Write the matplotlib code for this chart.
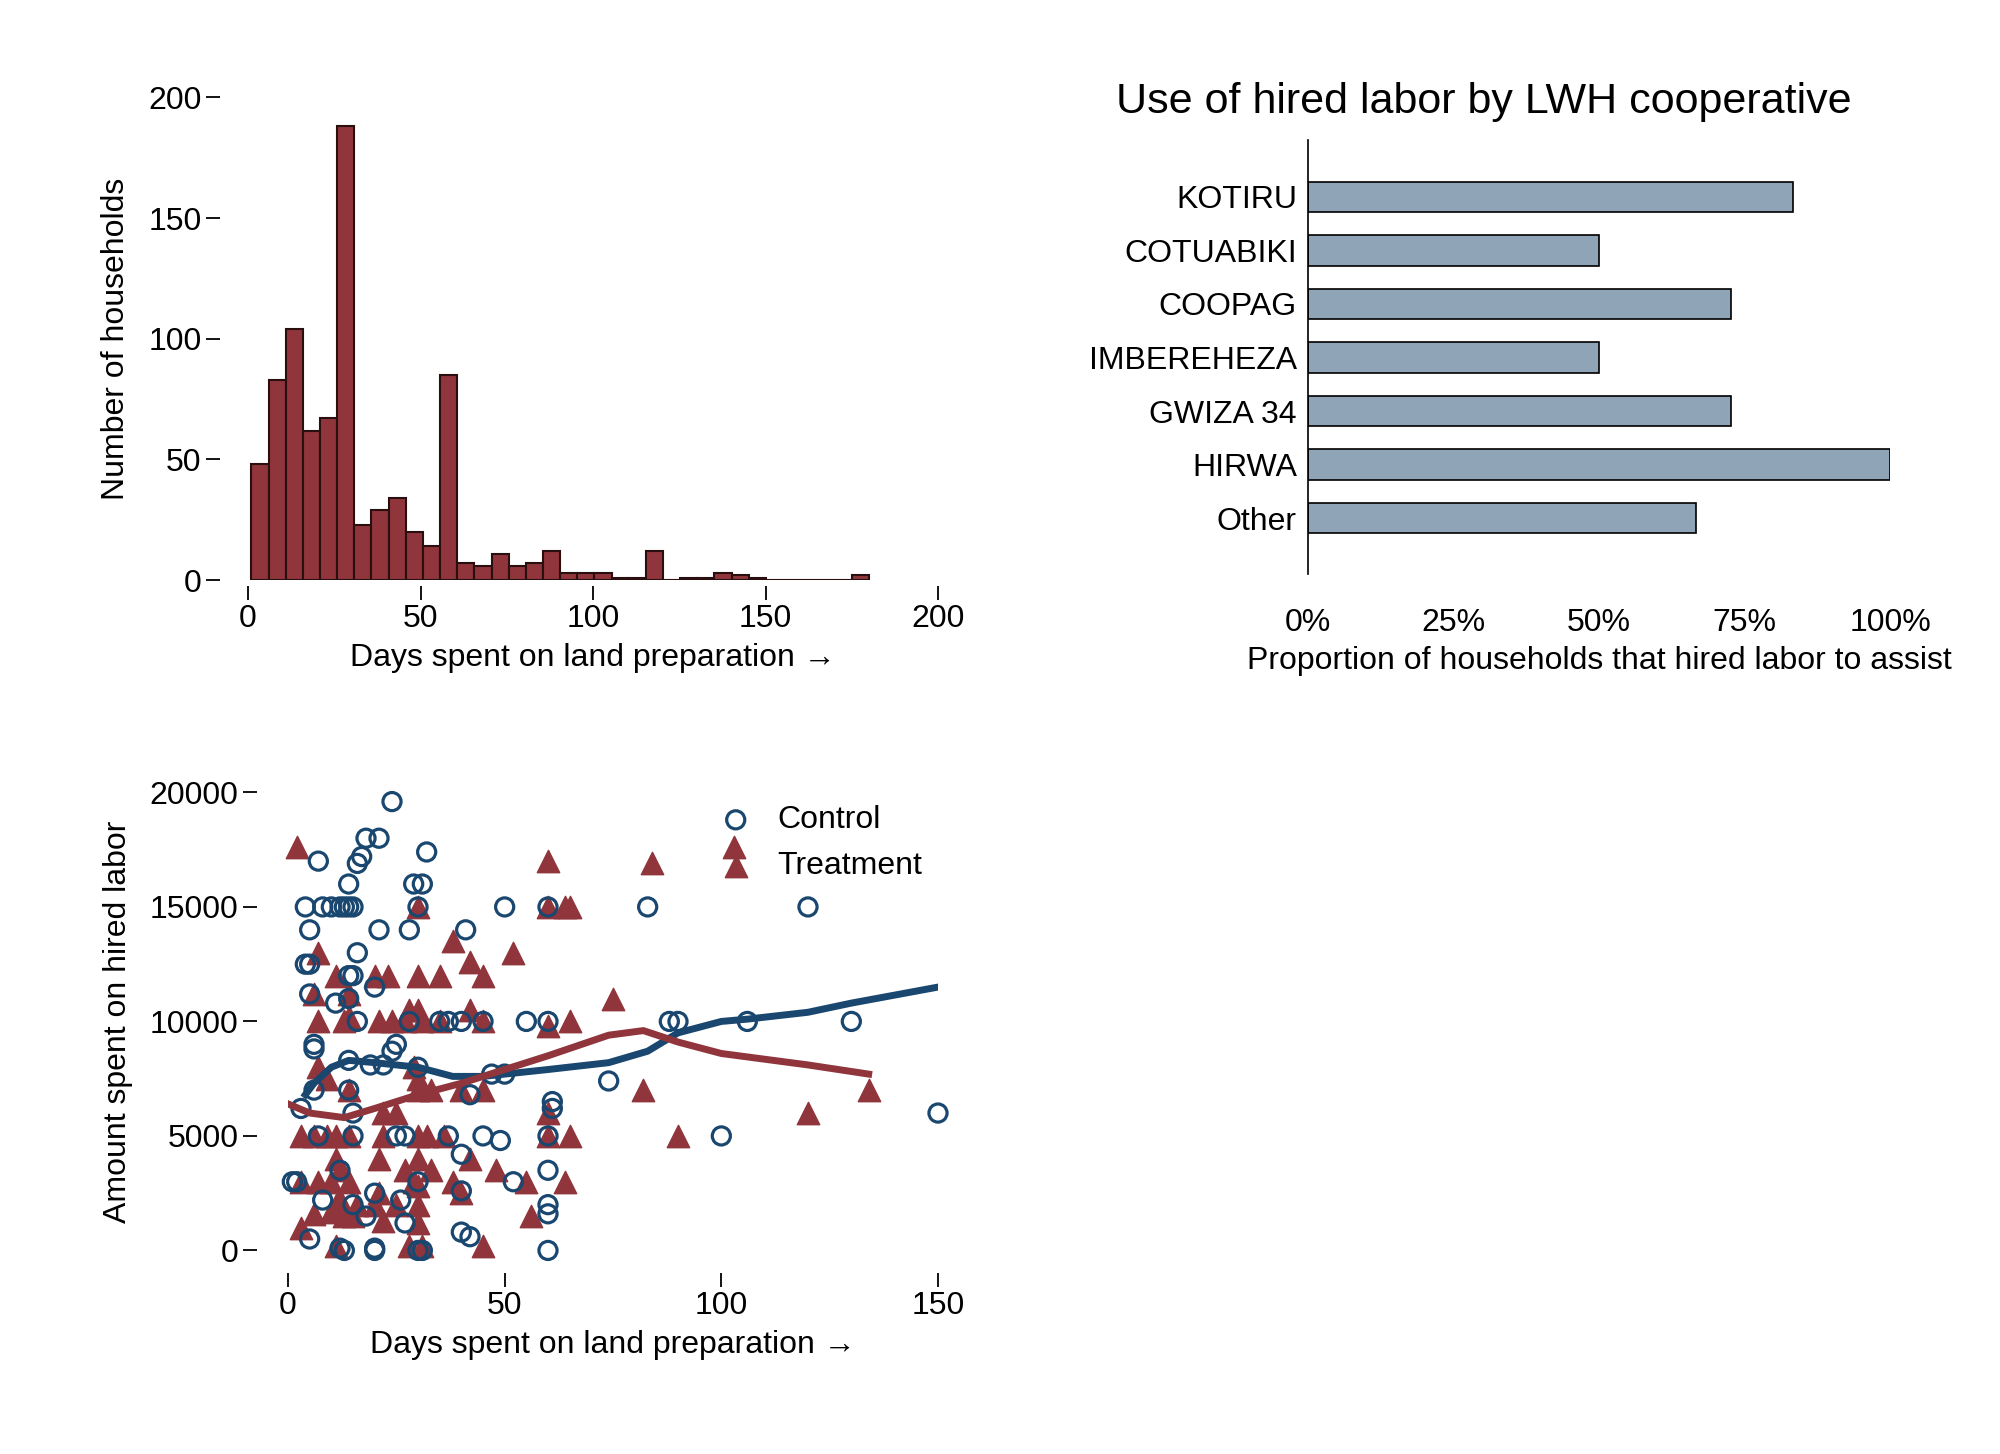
import matplotlib
matplotlib.use("Agg")
import matplotlib.pyplot as plt
import numpy as np

plt.rcParams['font.family'] = ['Liberation Sans', 'DejaVu Sans']

MAROON = '#90353B'
NAVY = '#1A476F'
GRAYBLUE = '#90A4B8'

# Histogram
hist_edges_start = 1.0
hist_width = 4.97
hist_counts = [48, 83, 104, 62, 67, 188, 23, 29, 34, 20, 14, 85, 7, 6, 11, 6, 7, 12,
               3, 3, 3, 1, 1, 12, 0, 1, 1, 3, 2, 1, 0, 0, 0, 0, 0, 2]

# Cooperatives
coops = ['KOTIRU', 'COTUABIKI', 'COOPAG', 'IMBEREHEZA', 'GWIZA 34', 'HIRWA', 'Other']
coop_share = [83.3, 50.0, 72.7, 50.0, 72.7, 100.0, 66.7]

# Scatter
control_x = [24,18,21,7,16,17,14,29,31,32,4,8,10,12,13,14,15,30,50,60,83,120,5,21,28,41,16,4,5,14,15,20,5,11,14,
             16,28,35,37,40,45,55,60,88,90,106,130,6,6,25,24,14,19,22,30,47,50,74,6,14,42,61,61,3,15,7,15,25,27,
             37,45,49,60,100,150,40,12,60,1,2,30,52,40,20,60,60,8,15,26,18,27,40,42,5,12,13,20,20,30,31,60]
control_y = [19600,18000,18000,17000,16900,17200,16000,16000,16000,17400,15000,15000,15000,15000,15000,15000,15000,
             15000,15000,15000,15000,15000,14000,14000,14000,14000,13000,12500,12500,12000,12000,11500,11200,10800,
             11000,10000,10000,10000,10000,10000,10000,10000,10000,10000,10000,10000,10000,9000,8800,9000,8700,8300,
             8100,8100,8000,7700,7700,7400,7000,7000,6800,6500,6200,6200,6000,5000,5000,5000,5000,5000,5000,4800,
             5000,5000,6000,4200,3500,3500,3000,3000,3000,3000,2600,2500,2000,1600,2200,2000,2200,1500,1200,800,600,
             500,100,0,100,0,0,0,0]
treat_x = [2,60,84,103,30,60,64,65,38,7,52,42,45,11,20,23,30,35,6,14,75,7,13,14,21,24,27,28,30,31,35,42,45,65,60,
           29,30,9,7,14,30,33,40,45,82,134,120,22,25,60,3,6,9,11,14,22,30,32,36,60,65,90,11,21,27,30,33,42,48,38,
           55,64,3,7,10,12,14,21,29,30,40,11,12,15,16,20,25,30,6,3,10,13,22,30,56,11,28,31,45]
treat_y = [17600,17000,16900,17600,15000,15000,15000,15000,13500,13000,13000,12600,12000,12000,12000,12000,12000,
           12000,11200,11200,11000,10000,10000,10200,10000,10000,10000,10500,10500,10000,10000,10500,10000,10000,
           9800,8000,7500,7500,8000,7000,7000,7000,7000,7000,7000,7000,6000,6000,6000,6000,5000,5000,5000,5000,5000,
           5000,5000,5000,5000,5000,5000,5000,4000,4000,3500,4000,3500,4000,3500,3000,3000,3000,3000,3000,3000,3500,
           3000,2500,3000,2800,2500,2000,2200,1500,2000,2000,2000,2000,1600,1000,1700,1500,1300,1200,1500,200,200,
           200,200]
lowess_c_x = [4,6,10,14,20,30,38,45,50,60,74,83,90,100,106,120,130,150]
lowess_c_y = [6800,7300,8000,8300,8200,8000,7600,7600,7700,7900,8200,8700,9500,10000,10100,10400,10800,11500]
lowess_t_x = [0,5,13,20,30,40,50,60,74,82,90,100,120,134]
lowess_t_y = [6400,6000,5800,6200,6800,7300,7900,8500,9400,9600,9100,8600,8100,7700]

FS = 23

fig = plt.figure(figsize=(20, 14.54), dpi=100)

def stata_axes(ax, xoff=10, yoff=16):
    for s in ['top', 'right']:
        ax.spines[s].set_visible(False)
    ax.spines['left'].set_position(('outward', yoff))
    ax.spines['bottom'].set_position(('outward', xoff))
    ax.spines['left'].set_color('none')
    ax.spines['bottom'].set_color('none')
    ax.tick_params(axis='both', labelsize=FS, length=10, width=1.3, color='black', direction='out')

# Histogram
ax1 = fig.add_axes([0.124, 0.601, 0.345, 0.332])
edges = hist_edges_start + hist_width * np.arange(len(hist_counts))
ax1.bar(edges, hist_counts, width=hist_width, align='edge', color=MAROON,
        edgecolor='#2a0f10', linewidth=1.5)
ax1.set_xlim(0, 200)
ax1.set_ylim(0, 200)
ax1.set_xticks([0, 50, 100, 150, 200])
ax1.set_yticks([0, 50, 100, 150, 200])
stata_axes(ax1, xoff=4, yoff=20)
ax1.set_xlabel('Days spent on land preparation →', fontsize=FS, labelpad=6)
ax1.set_ylabel('Number of households', fontsize=FS, labelpad=12)

# Bar chart
ax2 = fig.add_axes([0.654, 0.605, 0.291, 0.299])
ypos = np.arange(len(coops))
ax2.barh(ypos, coop_share, height=0.57, color=GRAYBLUE, edgecolor='black', linewidth=1.2)
ax2.set_ylim(len(coops) - 1 + 1.05, -1.07)
ax2.set_xlim(0, 100)
ax2.set_yticks(ypos)
ax2.set_yticklabels(coops)
ax2.set_xticks([0, 25, 50, 75, 100])
ax2.set_xticklabels(['0%', '25%', '50%', '75%', '100%'])
for s in ['top', 'right', 'bottom']:
    ax2.spines[s].set_visible(False)
ax2.spines['left'].set_linewidth(1.2)
ax2.tick_params(axis='both', labelsize=FS, length=0, pad=8)
ax2.tick_params(axis='x', pad=24)
ax2.set_xlabel('Proportion of households that hired labor to assist', fontsize=FS, labelpad=6)
fig.text(0.742, 0.93, 'Use of hired labor by LWH cooperative', fontsize=31, ha='center', va='center')

# Scatter
ax3 = fig.add_axes([0.144, 0.140, 0.325, 0.315])
ax3.scatter(control_x, control_y, s=170, facecolors='none', edgecolors=NAVY, linewidths=2.3, marker='o',
            label='Control', zorder=3, clip_on=False)
ax3.scatter(treat_x, treat_y, s=260, color=MAROON, marker='^', label='Treatment', zorder=2, clip_on=False)
ax3.plot(lowess_c_x, lowess_c_y, color=NAVY, linewidth=5, zorder=4)
ax3.plot(lowess_t_x, lowess_t_y, color=MAROON, linewidth=5, zorder=4)
ax3.set_xlim(0, 150)
ax3.set_ylim(0, 20000)
ax3.set_xticks([0, 50, 100, 150])
ax3.set_yticks([0, 5000, 10000, 15000, 20000])
stata_axes(ax3, xoff=16, yoff=22)
ax3.set_xlabel('Days spent on land preparation →', fontsize=FS, labelpad=6)
ax3.set_ylabel('Amount spent on hired labor', fontsize=FS, labelpad=12)
ax3.legend(loc='upper left', bbox_to_anchor=(0.62, 1.0), frameon=False, fontsize=FS,
           handletextpad=0.3, labelspacing=0.5, borderaxespad=0)

fig.savefig('out.png', dpi=100, facecolor='white')
